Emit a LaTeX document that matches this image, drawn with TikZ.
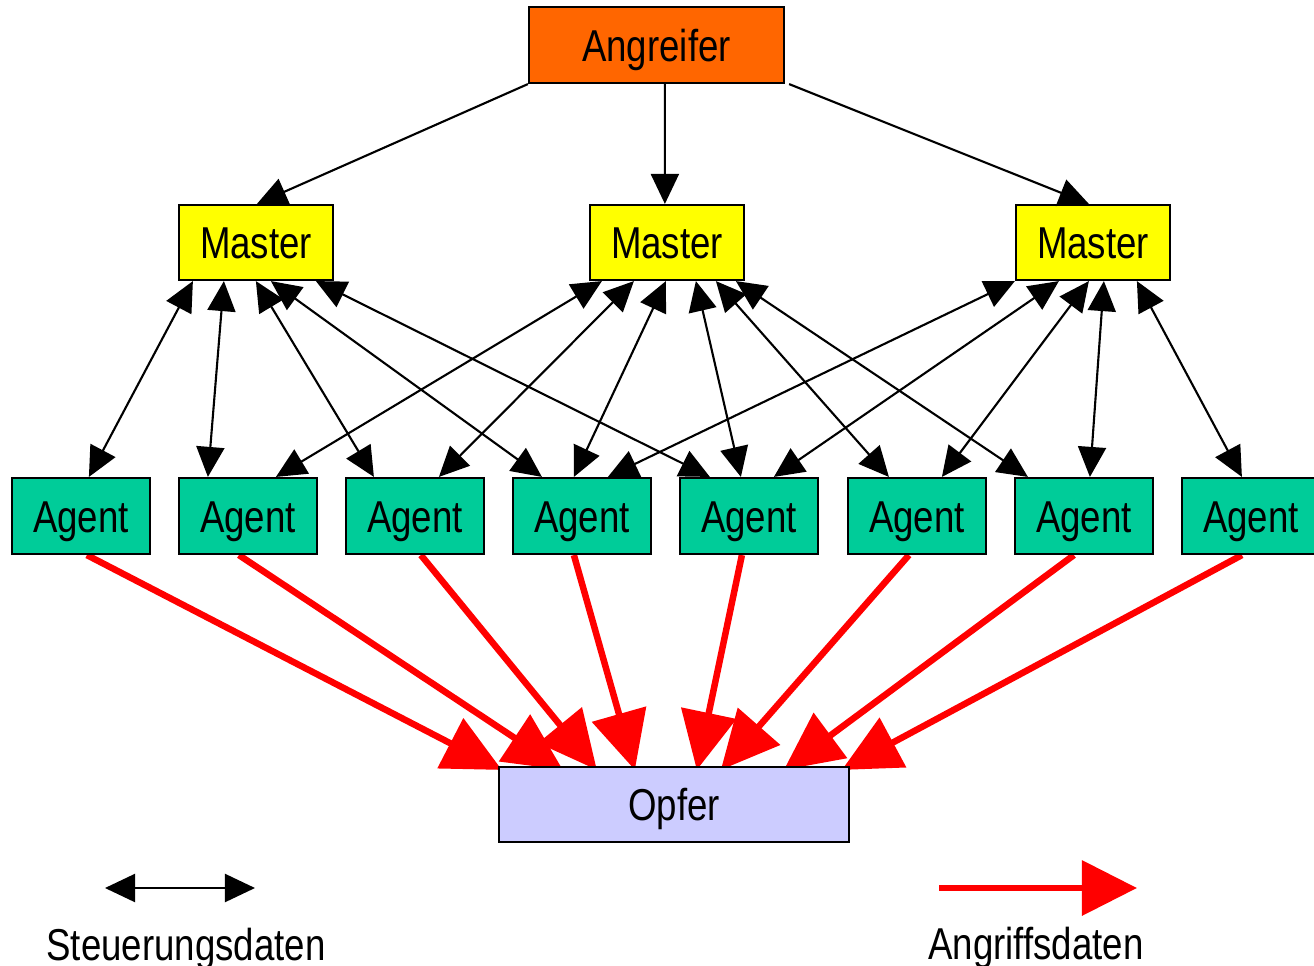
\documentclass[tikz,border=0pt]{standalone}
\usepackage{fontspec}
\setmainfont{Liberation Sans}[FakeStretch=0.82]
\usetikzlibrary{arrows.meta, calc, backgrounds}

\definecolor{angreiferorange}{HTML}{FF6600}
\definecolor{masteryellow}{HTML}{FFFF00}
\definecolor{agentgreen}{HTML}{00CC99}
\definecolor{opferblue}{HTML}{CCCCFF}
\definecolor{attackred}{HTML}{FF0000}

\begin{document}
\begin{tikzpicture}[x=0.01cm, y=-0.01cm,
    box/.style={draw=black, line width=0.6pt, inner sep=0pt, text height=9.1pt, text depth=0pt,
      font=\fontsize{12.7}{15}\selectfont},
    master/.style={box, fill=masteryellow, minimum width=1.54cm, minimum height=0.75cm},
    agent/.style={box, fill=agentgreen, minimum width=1.38cm, minimum height=0.76cm},
    legend/.style={anchor=base, inner sep=0pt, font=\fontsize{12.7}{15}\selectfont},
    cmd/.style={line width=0.6pt, -{Triangle[length=0.3cm, width=0.28cm]}},
    ctrl/.style={line width=0.6pt, {Triangle[length=0.3cm, width=0.28cm]}-{Triangle[length=0.3cm, width=0.28cm]}},
    attack/.style={attackred, line width=0.065cm, -{Triangle[length=0.58cm, width=0.55cm]}}]
    \useasboundingbox (0,0) rectangle (1314,966);

    % Nodes
    \node[box, fill=angreiferorange, minimum width=2.55cm, minimum height=0.76cm] (angreifer) at (656.5,45) {Angreifer};
    \node[master] (m1) at (256,242.5) {Master};
    \node[master] (m2) at (667,242.5) {Master};
    \node[master] (m3) at (1093,242.5) {Master};
    \foreach \i/\x in {1/81, 2/248, 3/415, 4/582, 5/749, 6/917, 7/1084, 8/1251}
        \node[agent] (a\i) at (\x,516) {Agent};
    \node[box, fill=opferblue, minimum width=3.5cm, minimum height=0.75cm] (opfer) at (674,804.5) {Opfer};

    % Angreifer -> Master
    \draw[cmd] (angreifer.south west) -- ($(m1.north west)+(79,0)$);
    \draw[cmd] ($(angreifer.south west)+(137,0)$) -- ($(m2.north west)+(76,0)$);
    \draw[cmd] ($(angreifer.south east)+(4,0)$) -- ($(m3.north west)+(74,0)$);

    % Master <-> Agent
    \foreach \m/\mx/\a/\ax in {m1/15/a1/78, m1/46/a2/30, m1/78/a3/29, m1/93/a4/30, m1/138/a5/31,
        m2/13/a2/98, m2/45/a3/94, m2/77/a4/62, m2/107/a5/62, m2/127/a6/42, m2/147/a7/14,
        m3/0/a4/96, m3/44/a5/95, m3/74/a6/95, m3/89/a7/76, m3/122/a8/61}
        \draw[ctrl] ($(\m.south west)+(\mx,0)$) -- ($(\a.north west)+(\ax,0)$);

    % Agent -> Opfer (tips hidden under the box)
    \begin{scope}[on background layer]
        \foreach \a/\ax/\ox in {a1/76/4, a2/61/65, a3/76/99, a4/62/137, a5/63/199, a6/62/223, a7/60/286, a8/61/344}
            \draw[attack] ($(\a.south west)+(\ax,0)$) -- ($(opfer.north west)+(\ox,4)$);
    \end{scope}

    % Legend
    \coordinate (ctrlL) at (105,888);
    \coordinate (ctrlR) at (255,888);
    \draw[ctrl] (ctrlL) -- (ctrlR);
    \node[legend] (ctrltext) at (186,960) {Steuerungsdaten};
    \coordinate (attackL) at (939,888);
    \coordinate (attackR) at (1137,888);
    \draw[attack, -{Triangle[length=0.55cm, width=0.54cm]}] (attackL) -- (attackR);
    \node[legend] (attacktext) at (1036,959) {Angriffsdaten};
\end{tikzpicture}
\end{document}
